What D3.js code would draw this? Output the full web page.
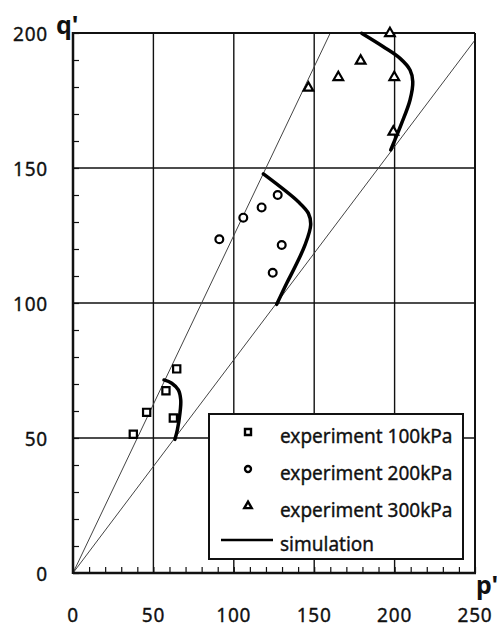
<!DOCTYPE html>
<html lang="en">
<head>
    <meta charset="UTF-8">
    <title>p'-q' stress paths</title>
    <script src="https://d3js.org/d3.v7.min.js"></script>
    <style>
        body {
            margin: 0;
            background-color: #fff;
        }
        svg text {
            font-family: "Noto Sans", "DejaVu Sans", sans-serif;
            fill: #111;
        }
        .num, .lab {
            stroke: #111;
            stroke-width: 0.35px;
        }
    </style>
</head>
<body>
<div id="chart"></div>

<script>
    // axis ticks
    const pTicks = [0, 50, 100, 150, 200, 250];
    const qTicks = [0, 50, 100, 150, 200];

    // experiment points [p', q']
    const exp100 = [[37.5, 51.4], [45.8, 59.5], [57.8, 67.5], [64.5, 75.6], [62.4, 57.4]];
    const exp200 = [[91.0, 123.6], [105.9, 131.6], [117.3, 135.4], [127.3, 140.0], [129.8, 121.5], [124.2, 111.2]];
    const exp300 = [[197.1, 199.9], [178.9, 189.7], [165.0, 183.6], [146.4, 179.7], [199.8, 183.6], [199.2, 163.4]];

    // simulated paths
    const sim100 = [[56.6, 71.5], [61.4, 70.3], [65.5, 67.8], [67.0, 64.1], [66.5, 59.1], [64.9, 53.0], [63.4, 49.5]];
    const sim200 = [[118.4, 147.8], [140.1, 137.5], [146.4, 133.2], [147.8, 128.9], [144.3, 121.5], [138.1, 113.4], [132.9, 107.3], [126.7, 99.5]];
    const sim300 = [[179.5, 199.9], [193.0, 194.9], [203.4, 190.6], [209.6, 186.3], [211.3, 182.0], [209.6, 175.2], [204.4, 166.6], [200.2, 160.4], [197.6, 156.7]];

    // lines through the origin (end points)
    const lineSteep = [[0, 0], [160, 200]];
    const lineFlat = [[0, 0], [250, 197.4]];

    const legendLabels = ["experiment 100kPa", "experiment 200kPa", "experiment 300kPa", "simulation"];

    const width = 497, height = 629;
    const margin = {left: 73, top: 33, right: 22, bottom: 56};

    const svg = d3.select("#chart").append("svg")
        .attr("width", width)
        .attr("height", height);

    const x = d3.scaleLinear().domain([0, 250]).range([margin.left, width - margin.right]);
    const y = d3.scaleLinear().domain([0, 200]).range([height - margin.bottom, margin.top]);

    // grid
    svg.append("g")
        .selectAll("line")
        .data(pTicks.filter(d => d > 0 && d < 250))
        .join("line")
        .attr("x1", d => x(d)).attr("x2", d => x(d))
        .attr("y1", y(0)).attr("y2", y(200))
        .attr("stroke", "#111").attr("stroke-width", 1.4);

    svg.append("g")
        .selectAll("line")
        .data(qTicks.filter(d => d > 0 && d < 200))
        .join("line")
        .attr("x1", x(0)).attr("x2", x(250))
        .attr("y1", d => y(d)).attr("y2", d => y(d))
        .attr("stroke", "#111").attr("stroke-width", 1.4);

    // minor ticks (inward)
    svg.append("g")
        .attr("transform", `translate(0,${y(0)})`)
        .call(d3.axisBottom(x).ticks(25).tickSize(-6).tickFormat(""))
        .call(g => g.select(".domain").remove())
        .call(g => g.selectAll("line").attr("stroke", "#111").attr("stroke-width", 1.2));

    svg.append("g")
        .attr("transform", `translate(${x(0)},0)`)
        .call(d3.axisLeft(y).ticks(20).tickSize(-6).tickFormat(""))
        .call(g => g.select(".domain").remove())
        .call(g => g.selectAll("line").attr("stroke", "#111").attr("stroke-width", 1.2));

    // tick labels
    svg.append("g")
        .selectAll("text")
        .data(pTicks)
        .join("text")
        .attr("class", "num")
        .attr("x", d => x(d))
        .attr("y", y(0) + 49)
        .attr("text-anchor", "middle")
        .attr("font-size", 19)
        .attr("letter-spacing", 0.8)
        .text(d => d);

    svg.append("g")
        .selectAll("text")
        .data(qTicks)
        .join("text")
        .attr("class", "num")
        .attr("x", x(0) - 25)
        .attr("y", d => y(d) + 8)
        .attr("text-anchor", "end")
        .attr("font-size", 19)
        .attr("letter-spacing", 0.8)
        .text(d => d);

    // lines from origin
    const line = d3.line().x(d => x(d[0])).y(d => y(d[1]));
    [lineSteep, lineFlat].forEach(l => {
        svg.append("path")
            .attr("d", line(l))
            .attr("fill", "none")
            .attr("stroke", "#444")
            .attr("stroke-width", 1);
    });

    // frame
    svg.append("line")
        .attr("x1", x(0)).attr("x2", x(250)).attr("y1", y(200)).attr("y2", y(200))
        .attr("stroke", "#111").attr("stroke-width", 2);
    svg.append("line")
        .attr("x1", x(250)).attr("x2", x(250)).attr("y1", y(0)).attr("y2", y(200))
        .attr("stroke", "#111").attr("stroke-width", 2);
    svg.append("line")
        .attr("x1", x(0)).attr("x2", x(250) + 1).attr("y1", y(0)).attr("y2", y(0))
        .attr("stroke", "#111").attr("stroke-width", 2.5);
    svg.append("line")
        .attr("x1", x(0)).attr("x2", x(0)).attr("y1", y(0) + 1).attr("y2", y(200) - 1)
        .attr("stroke", "#111").attr("stroke-width", 2.5);

    // simulation curves
    const curve = d3.line().x(d => x(d[0])).y(d => y(d[1])).curve(d3.curveCatmullRom);
    [sim100, sim200, sim300].forEach(s => {
        svg.append("path")
            .attr("d", curve(s))
            .attr("fill", "none")
            .attr("stroke", "#000")
            .attr("stroke-width", 3.5)
            .attr("stroke-linecap", "round");
    });

    // markers
    const sq = d3.symbol().type(d3.symbolSquare).size(52);
    const ci = d3.symbol().type(d3.symbolCircle).size(48);
    const tr = d3.symbol().type(d3.symbolTriangle).size(40);

    function drawPoints(data, sym) {
        svg.append("g")
            .selectAll("path")
            .data(data)
            .join("path")
            .attr("transform", d => `translate(${x(d[0])},${y(d[1])})`)
            .attr("d", sym)
            .attr("fill", "#fff")
            .attr("stroke", "#000")
            .attr("stroke-width", 2.2);
    }
    drawPoints(exp100, sq);
    drawPoints(exp200, ci);
    drawPoints(exp300, tr);

    // legend
    const lg = svg.append("g").attr("transform", "translate(209,414)");
    lg.append("rect")
        .attr("width", 254).attr("height", 145)
        .attr("fill", "#fff").attr("stroke", "#111").attr("stroke-width", 2);

    const rows = [18, 55, 92, 126];
    const legSyms = [
        d3.symbol().type(d3.symbolSquare).size(36),
        d3.symbol().type(d3.symbolCircle).size(28),
        d3.symbol().type(d3.symbolTriangle).size(24)
    ];
    legSyms.forEach((s, i) => {
        lg.append("path")
            .attr("transform", `translate(39,${rows[i]})`)
            .attr("d", s)
            .attr("fill", "#fff")
            .attr("stroke", "#000")
            .attr("stroke-width", 2.4);
    });
    lg.append("line")
        .attr("x1", 12).attr("x2", 64)
        .attr("y1", rows[3]).attr("y2", rows[3])
        .attr("stroke", "#000").attr("stroke-width", 2.5);

    lg.selectAll("text.lab")
        .data(legendLabels)
        .join("text")
        .attr("class", "lab")
        .attr("x", 71)
        .attr("y", (d, i) => rows[i] + 11)
        .attr("font-size", 19)
        .text(d => d);

    // axis titles
    svg.append("text")
        .attr("x", 56).attr("y", 34)
        .attr("font-size", 25).attr("font-weight", "bold")
        .text("q'");
    svg.append("text")
        .attr("x", 476).attr("y", 594)
        .attr("font-size", 25).attr("font-weight", "bold")
        .text("p'");
</script>
</body>
</html>
